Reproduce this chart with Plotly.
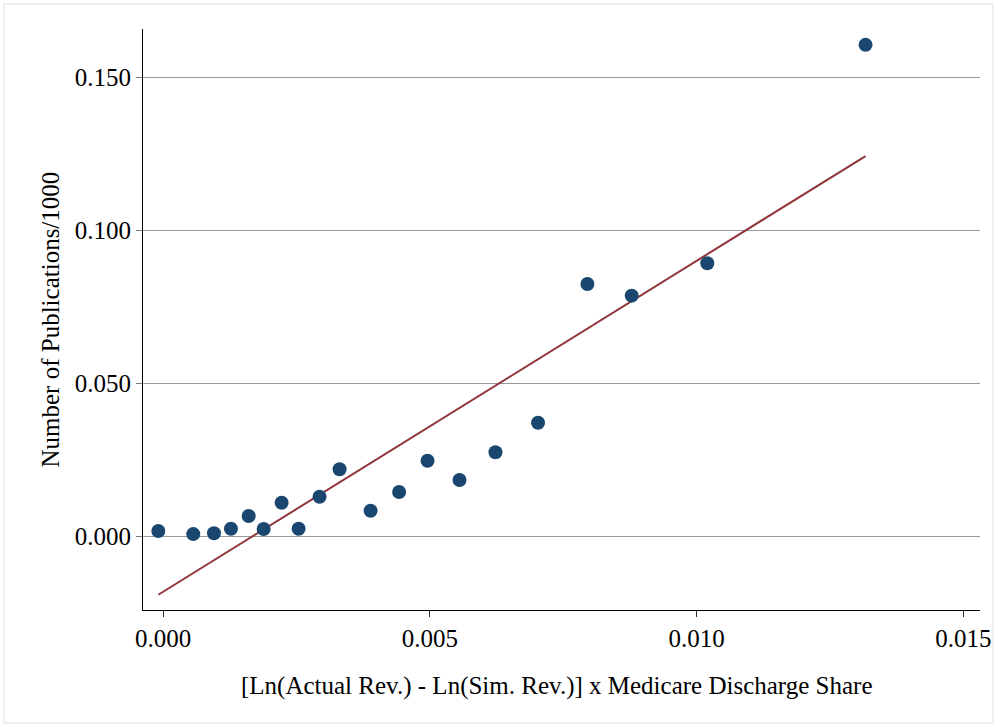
import plotly.graph_objects as go

# Binned scatter data
bin_x = [-0.000088, 0.000567, 0.000955, 0.001273, 0.001605, 0.001886, 0.002223,
         0.002541, 0.002934, 0.003309, 0.003890, 0.004425, 0.004957, 0.005556,
         0.006230, 0.007028, 0.007953, 0.008783, 0.010200, 0.013165]
bin_y = [0.0018, 0.0008, 0.00105, 0.00255, 0.0067, 0.00245, 0.01105,
         0.00255, 0.0130, 0.02196, 0.00843, 0.01454, 0.02477, 0.01846,
         0.02752, 0.03719, 0.08252, 0.07869, 0.08928, 0.16062]

# Fitted line endpoints
fit_x = [-0.000088, 0.013165]
fit_y = [-0.01902, 0.1243]

x_ticks = [0.000, 0.005, 0.010, 0.015]
y_ticks = [0.000, 0.050, 0.100, 0.150]

x_title = "[Ln(Actual Rev.) - Ln(Sim. Rev.)] x Medicare Discharge Share"
y_title = "Number of Publications/1000"

FONT = "Liberation Serif"

L, R, T, B = 143, 17, 29, 117
W, H = 997, 727
PW = W - L - R
PH = H - T - B

fig = go.Figure()
fig.add_trace(go.Scatter(
    x=fit_x, y=fit_y, mode="lines",
    line=dict(color="#90353b", width=2), showlegend=False, hoverinfo="skip"))
fig.add_trace(go.Scatter(
    x=bin_x, y=bin_y, mode="markers",
    marker=dict(color="#1a476f", size=14, line=dict(width=0)),
    showlegend=False))

fig.update_layout(
    width=W, height=H,
    margin=dict(l=L, r=R, t=T, b=B, autoexpand=False),
    paper_bgcolor="white", plot_bgcolor="white",
    font=dict(family=FONT, size=25, color="black"),
    xaxis=dict(
        range=[-0.000375, 0.01531], automargin=False,
        tickvals=x_ticks, ticktext=[f"{v:.3f}" for v in x_ticks],
        showgrid=False, zeroline=False,
        showline=True, linecolor="black", linewidth=1.2,
        ticks="outside", ticklen=6, tickcolor="#333", tickwidth=1,
        tickfont=dict(family=FONT, size=25),
    ),
    yaxis=dict(
        range=[-0.0240, 0.1658], automargin=False,
        tickvals=y_ticks, ticktext=[f"{v:.3f}" for v in y_ticks],
        showgrid=True, gridcolor="#9a9a9a", gridwidth=1,
        zeroline=False,
        showline=True, linecolor="black", linewidth=1.2,
        ticks="outside", ticklen=6, tickcolor="#777", tickwidth=1,
        tickfont=dict(family=FONT, size=25),
    ),
    annotations=[
        dict(text=x_title, xref="paper", yref="paper",
             x=(557 - L) / PW, y=-(686 - (H - B)) / PH,
             xanchor="center", yanchor="middle", showarrow=False,
             font=dict(family=FONT, size=25)),
        dict(text=y_title, xref="paper", yref="paper",
             x=(50 - L) / PW, y=0.5,
             xanchor="center", yanchor="middle", showarrow=False, textangle=-90,
             font=dict(family=FONT, size=25)),
    ],
    shapes=[
        dict(type="rect", xref="paper", yref="paper",
             x0=-(L - 4) / PW, x1=1 + (R - 4) / PW,
             y0=-(B - 4) / PH, y1=1 + (T - 4) / PH,
             line=dict(color="#e6ebf0", width=1.5), fillcolor="rgba(0,0,0,0)",
             layer="below"),
    ],
)

fig.write_html("out.html")
